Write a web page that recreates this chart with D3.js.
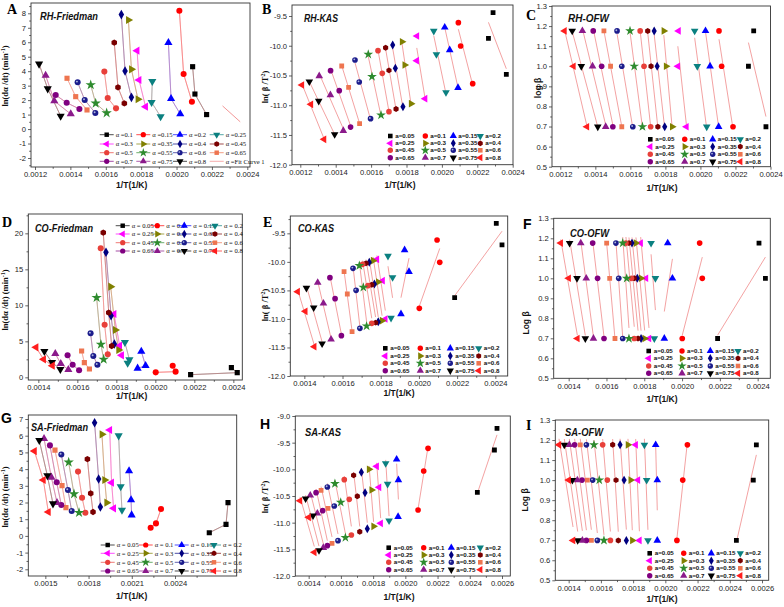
<!DOCTYPE html>
<html><head><meta charset="utf-8">
<script src="https://cdn.jsdelivr.net/npm/d3@7"></script>
<style>body{margin:0;background:#fff}svg{display:block}</style>
</head><body><svg id="c" width="784" height="607"></svg>
<script>
// ---------------- DATA ----------------
const alphaLabels = ["0.05","0.1","0.15","0.2","0.25","0.3","0.35","0.4","0.45","0.5","0.55","0.6","0.65","0.7","0.75","0.8"];
const alphaLabelsRHF = ["0.1","0.15","0.2","0.25","0.3","0.35","0.4","0.45","0.5","0.55","0.6","0.65","0.7","0.75","0.8","Fit Curve 1"];
const ofwLogBeta = [1.176, 1.0, 0.699];   // log of heating rates 15, 10, 5 K/min

// RH-Friedman (alpha 0.1..0.8), points ordered beta = 15, 10, 5
const rhFriedmanX = [[0.002091,0.002104,0.00217],[0.002016,0.00204,0.002087],[0.001954,0.001969,0.002021],[0.001863,0.001859,0.00191],[0.001777,0.001788,0.001825],[0.001728,0.001745,0.001782],[0.001688,0.001709,0.001745],[0.001648,0.001669,0.001705],[0.001592,0.001611,0.001658],[0.001515,0.001543,0.001605],[0.001441,0.001481,0.001541],[0.001381,0.00143,0.001494],[0.001317,0.001379,0.001451],[0.00126,0.001309,0.001402],[0.001223,0.001272,0.001345]];
const rhFriedmanY = [[4.31,2.42,1.0],[8.18,3.81,1.89],[5.97,2.1,1.04],[3.3,1.85,0.86],[5.42,3.39,1.55],[7.54,4.13,2.06],[7.91,4.01,2.19],[5.97,2.88,1.78],[3.97,2.15,1.43],[3.05,1.78,1.11],[3.23,2.01,1.11],[3.51,2.24,1.32],[2.35,1.82,1.39],[3.71,1.94,1.04],[4.5,2.79,0.9]];
const rhFitCurveX = [0.00226, 0.00236];
const rhFitCurveY = [1.6, 0.5];

// RH-KAS
const rhKasX = [[0.002289,0.002263,0.002364],[0.002093,0.002106,0.002174],[0.002016,0.002044,0.002091],[0.001954,0.001969,0.002023],[0.001859,0.001858,0.001905],[0.001775,0.00179,0.001826],[0.001722,0.001737,0.00178],[0.001682,0.001701,0.001741],[0.001639,0.001663,0.001701],[0.001584,0.001605,0.001656],[0.001509,0.001533,0.001597],[0.001434,0.001473,0.001535],[0.001371,0.00142,0.001484],[0.001307,0.00137,0.001443],[0.001251,0.001304,0.001394],[0.001209,0.00126,0.001334]];
const rhKasY = [[-9.444,-9.876,-10.481],[-9.612,-10.004,-10.638],[-9.691,-10.072,-10.705],[-9.752,-10.145,-10.784],[-9.836,-10.251,-10.89],[-9.932,-10.324,-10.974],[-9.988,-10.38,-11.025],[-10.033,-10.414,-11.064],[-10.083,-10.464,-11.109],[-10.145,-10.52,-11.165],[-10.24,-10.61,-11.226],[-10.341,-10.7,-11.31],[-10.419,-10.756,-11.367],[-10.509,-10.828,-11.428],[-10.604,-10.929,-11.49],[-10.66,-10.985,-11.574]];

// RH-OFW
const rhOfwX = [[0.002304,0.002274,0.002374],[0.002106,0.002121,0.002186],[0.002029,0.002055,0.002104],[0.001967,0.001982,0.002036],[0.001875,0.001871,0.00192],[0.001791,0.001804,0.001839],[0.001736,0.001753,0.001796],[0.001699,0.001718,0.001757],[0.001656,0.001678,0.001716],[0.001598,0.001622,0.001669],[0.001524,0.001551,0.001614],[0.001449,0.001487,0.001551],[0.001388,0.001436,0.0015],[0.001326,0.001384,0.001459],[0.001268,0.00132,0.001414],[0.001224,0.001275,0.001352]];

// CO-Friedman
const coFriedmanX = [[0.00239,0.00242,0.002181],[0.002089,0.002104,0.002002],[0.001928,0.00195,0.001909],[0.001844,0.001867,0.001858],[0.001788,0.001817,0.001827],[0.001771,0.001795,0.001812],[0.001747,0.001773,0.00179],[0.001733,0.001761,0.001776],[0.00172,0.00174,0.001756],[0.001699,0.001721,0.001735],[0.001668,0.001682,0.001703],[0.001622,0.001636,0.001662],[0.00155,0.001576,0.001609],[0.001487,0.001515,0.001554],[0.001431,0.00147,0.001513],[0.001388,0.001427,0.001472]];
const coFriedmanY = [[1.34,0.65,0.37],[1.62,0.79,0.69],[3.61,1.62,1.25],[4.86,2.45,1.99],[8.8,4.4,3.06],[12.59,6.57,3.8],[17.36,8.56,4.63],[20.09,8.98,4.35],[17.92,7.31,3.19],[11.06,4.58,2.5],[6.11,2.96,1.76],[3.66,2.04,1.16],[3.06,1.76,0.97],[3.29,1.9,1.06],[3.61,2.08,1.11],[4.17,2.5,1.62]];

// CO-KAS
const coKasX = [[0.002405,0.002435,0.002187],[0.002095,0.002109,0.002002],[0.001925,0.001948,0.001906],[0.001838,0.001862,0.001854],[0.00178,0.00181,0.001824],[0.00176,0.001787,0.001807],[0.00174,0.001767,0.001787],[0.001723,0.001753,0.001773],[0.001705,0.001733,0.001753],[0.001688,0.001709,0.001726],[0.001655,0.001671,0.001691],[0.001608,0.001625,0.00165],[0.001534,0.001561,0.001594],[0.00147,0.0015,0.00154],[0.001411,0.001449,0.001493],[0.001365,0.001405,0.001452]];
const coKasY = [[-9.325,-9.704,-10.627],[-9.617,-10.008,-10.814],[-9.792,-10.172,-10.914],[-9.897,-10.271,-10.984],[-9.956,-10.329,-11.001],[-9.979,-10.353,-11.03],[-10.008,-10.388,-11.048],[-10.026,-10.4,-11.065],[-10.043,-10.417,-11.077],[-10.067,-10.446,-11.124],[-10.113,-10.499,-11.165],[-10.172,-10.563,-11.223],[-10.277,-10.645,-11.293],[-10.364,-10.727,-11.357],[-10.458,-10.803,-11.433],[-10.522,-10.867,-11.486]];

// CO-OFW
const coOfwX = [[0.002407,0.002441,0.002188],[0.002093,0.002107,0.002001],[0.001924,0.001949,0.001906],[0.001836,0.001859,0.001853],[0.001781,0.001809,0.001825],[0.001756,0.001783,0.001802],[0.001735,0.001763,0.001783],[0.001719,0.001747,0.001767],[0.001703,0.001732,0.001747],[0.001686,0.001707,0.001719],[0.00165,0.001665,0.001686],[0.001601,0.001617,0.001645],[0.001527,0.001553,0.001587],[0.001464,0.001493,0.001531],[0.001405,0.001444,0.001488],[0.001358,0.0014,0.001446]];

// SA-Friedman
const saFriedmanX = [[0.002768,0.002754,0.002638],[0.002303,0.002268,0.002231],[0.002081,0.002095,0.002099],[0.002009,0.002023,0.002032],[0.001947,0.00196,0.001974],[0.001893,0.001912,0.001926],[0.001842,0.00187,0.001882],[0.001792,0.001815,0.001831],[0.001727,0.001755,0.001778],[0.001662,0.001699,0.001734],[0.001611,0.001657,0.001683],[0.001567,0.001616,0.001643],[0.001532,0.001579,0.001611],[0.001491,0.001542,0.001581],[0.001458,0.001514,0.001553],[0.001424,0.001486,0.001521]];
const saFriedmanY = [[1.99,0.69,0.19],[1.61,0.75,0.49],[3.89,2.15,1.25],[6.0,2.95,1.55],[6.34,3.19,1.65],[6.08,3.35,1.99],[6.78,3.41,1.73],[4.6,2.55,1.43],[3.85,2.29,1.39],[4.41,2.51,1.39],[4.88,2.75,1.49],[5.14,3.01,1.69],[5.42,3.21,1.85],[5.82,3.51,1.99],[5.72,3.61,1.93],[5.08,3.35,1.43]];

// SA-KAS
const saKasX = [[0.002569,0.002553,0.002447],[0.002141,0.002114,0.002079],[0.001946,0.001957,0.001955],[0.001878,0.00189,0.001899],[0.001822,0.001837,0.001847],[0.001775,0.001791,0.001803],[0.001727,0.00175,0.001764],[0.001679,0.001702,0.001717],[0.001621,0.001652,0.001665],[0.001563,0.001599,0.001628],[0.001516,0.001559,0.001582],[0.001477,0.00152,0.001545],[0.001446,0.001487,0.001516],[0.00141,0.001454,0.001491],[0.001381,0.001427,0.001464],[0.001346,0.0014,0.001435]];
const saKasY = [[-9.231,-9.638,-10.431],[-9.606,-10.031,-10.763],[-9.813,-10.2,-10.888],[-9.888,-10.275,-10.963],[-9.944,-10.338,-11.013],[-10.0,-10.388,-11.069],[-10.056,-10.438,-11.113],[-10.113,-10.506,-11.169],[-10.194,-10.563,-11.231],[-10.269,-10.619,-11.281],[-10.331,-10.688,-11.338],[-10.394,-10.731,-11.388],[-10.438,-10.775,-11.431],[-10.488,-10.825,-11.469],[-10.55,-10.869,-11.519],[-10.588,-10.9,-11.556]];

// SA-OFW
const saOfwX = [[0.002565,0.002546,0.002441],[0.002137,0.002108,0.002072],[0.00194,0.00195,0.00195],[0.00187,0.001884,0.001892],[0.001816,0.00183,0.001839],[0.001768,0.001785,0.001795],[0.001719,0.001744,0.001758],[0.001673,0.001694,0.001708],[0.001611,0.00164,0.001659],[0.001557,0.00159,0.001619],[0.00151,0.001549,0.001578],[0.001472,0.001516,0.001541],[0.001437,0.001483,0.00151],[0.001404,0.001454,0.001485],[0.001373,0.001423,0.001456],[0.00134,0.0014,0.001427]];

// tick values
const xTicksRH = [0.0012,0.0014,0.0016,0.0018,0.0020,0.0022,0.0024];
const xTicksCO = [0.0014,0.0016,0.0018,0.0020,0.0022,0.0024];
const xTicksSAF = [0.0015,0.0018,0.0021,0.0024];
const xTicksSA = [0.0014,0.0016,0.0018,0.0020,0.0022,0.0024,0.0026];
const yTicksRHF = [-2,-1,0,1,2,3,4,5,6,7,8];
const yTicksCOF = [0,5,10,15,20];
const yTicksSAF = [-2,-1,0,1,2,3,4,5,6,7];
const yTicksKAS = [-12.0,-11.5,-11.0,-10.5,-10.0,-9.5];
const yTicksKASsa = [-12.0,-11.5,-11.0,-10.5,-10.0,-9.5,-9.0];
const yTicksOFW = [0.5,0.6,0.7,0.8,0.9,1.0,1.1,1.2,1.3];

// ---------------- STYLE ----------------
const styles = [
 {shape:"square",color:"#000000"},{shape:"circle",color:"#ff0000"},{shape:"up",color:"#0000ff"},{shape:"down",color:"#0b8080"},
 {shape:"left",color:"#ff00ff"},{shape:"right",color:"#808000"},{shape:"diamond",color:"#000080"},{shape:"hexagon",color:"#7a0000"},
 {shape:"circle",color:"#e8403a"},{shape:"star",color:"#2e8b2e"},{shape:"sphere",color:"#1c1c8c"},{shape:"square",color:"#ee7550"},
 {shape:"circle",color:"#800080"},{shape:"up",color:"#8b1a8b"},{shape:"down",color:"#000000"},{shape:"left",color:"#ff1e1e"}];
const FIT = "#f08a8a";
const svg = d3.select("#c");
const SANS = "'Liberation Sans', Arial, sans-serif";
const SERIF = "'Liberation Serif', 'Times New Roman', serif";

function shapePath(shape,k){
  switch(shape){
    case "square": return d3.symbol(d3.symbolSquare,22*k)();
    case "circle": case "sphere": return d3.symbol(d3.symbolCircle,24*k)();
    case "up": case "down": case "left": case "right": return d3.symbol(d3.symbolTriangle,24*k)();
    case "diamond": return d3.symbol(d3.symbolDiamond,22*k)();
    case "star": return d3.symbol(d3.symbolStar,28*k)();
    case "hexagon": { const r=2.9*Math.sqrt(k); return d3.line()(d3.range(6).map(i=>[r*Math.cos(Math.PI/3*i+Math.PI/6),r*Math.sin(Math.PI/3*i+Math.PI/6)]))+"Z"; }
  }
}
const ROT={down:180,left:-90,right:90};
function drawSym(g,st,x,y,k){
  g.append("path").attr("d",shapePath(st.shape,k)).attr("fill",st.color)
   .attr("transform",`translate(${x},${y}) rotate(${ROT[st.shape]||0})`);
  if(st.shape==="sphere") g.append("circle").attr("cx",x-0.7).attr("cy",y-0.7).attr("r",0.9*Math.sqrt(k)).attr("fill","#aab4dd");
}
function regress(xs,ys){
  const mx=d3.mean(xs),my=d3.mean(ys);let sxy=0,sxx=0;
  xs.forEach((v,i)=>{sxy+=(v-mx)*(ys[i]-my);sxx+=(v-mx)*(v-mx);});
  const b=sxy/sxx,a=my-b*mx;const [x0,x1]=d3.extent(xs);
  return [[x0,a+b*x0],[x1,a+b*x1]];
}
const fmtX=d=>d.toFixed(4);
const fmtI=d=>String(d);
const fmt1=d=>d.toFixed(1);

const panels=[
 {L:"A",lf:SERIF,lx:7,ly:14,kind:"F",title:"RH-Friedman",tx:40,ty:16,tw:58,xs:rhFriedmanX,ys:rhFriedmanY,labels:alphaLabelsRHF,
  frame:[31,250,3,167],xcal:[0.0012,0.0024,35,247.3],ycal:[8,-2,13.3,158],xt:xTicksRH,yt:yTicksRHF,yf:fmtI,
  ytitle:"F",ytx:8,yty:76,xtx:131.7,xty:188,cols:[106.7,143.3,180,216.7],rows:[134.7,144,152.7,161.3],legFmt:l=>"α =" + l,fitCurve:true},
 {L:"B",lf:SERIF,lx:262,ly:14,kind:"K",title:"RH-KAS",tx:304,ty:18.5,tw:34,xs:rhKasX,ys:rhKasY,labels:alphaLabels,
  frame:[292,513,5,164.7],xcal:[0.0012,0.0024,300.3,512.7],ycal:[-9.5,-12,16,164.7],xt:xTicksRH,yt:yTicksKAS,yf:fmt1,
  ytitle:"K",ytx:268,yty:87,xtx:400,xty:188,cols:[390.3,425.3,453.3,480.3],rows:[136,143.3,150.3,157.7],legFmt:l=>"a="+l},
 {L:"C",lf:SERIF,lx:526,ly:20,kind:"O",title:"RH-OFW",tx:568,ty:18.5,tw:41,xs:rhOfwX,labels:alphaLabels,
  frame:[552,770.5,6,166.7],xcal:[0.0012,0.0024,560.3,770.5],ycal:[1.3,0.5,6,166.7],xt:xTicksRH,yt:yTicksOFW,yf:fmt1,
  ytitle:"log β",ytx:541,yty:88,xtx:662,xty:191,cols:[650.3,684.7,712.7,740.3],rows:[139.3,146.7,154.3,161.7],legFmt:l=>"a="+l},
 {L:"D",lf:SERIF,lx:2,ly:227,kind:"F",title:"CO-Friedman",tx:35,ty:228.5,tw:58,xs:coFriedmanX,ys:coFriedmanY,labels:alphaLabels,
  frame:[28.3,242.3,214,380],xcal:[0.0014,0.0024,38.33,233.33],ycal:[20,0,233.33,377.33],xt:xTicksCO,yt:yTicksCOF,yf:fmtI,
  ytitle:"F",ytx:8,yty:300,xtx:131.7,xty:399,cols:[122.7,157.3,184.3,215],rows:[225.7,234,242.7,251],legFmt:l=>"α = "+l},
 {L:"E",lf:SERIF,lx:263,ly:227,kind:"K",title:"CO-KAS",tx:298,ty:228.5,tw:36,xs:coKasX,ys:coKasY,labels:alphaLabels,
  frame:[290.3,507.7,216,376],xcal:[0.0014,0.0024,304.33,495.33],ycal:[-9.5,-12,233.33,376],xt:xTicksCO,yt:yTicksKAS,yf:fmt1,
  ytitle:"K",ytx:268,yty:305,xtx:399,xty:396,cols:[385.3,420.3,450.3,478.7],rows:[348.3,356,363.3,370.7],legFmt:l=>"a="+l},
 {L:"F",lf:SANS,lx:523,ly:229,kind:"O",title:"CO-OFW",tx:570,ty:233.5,tw:39,xs:coOfwX,labels:alphaLabels,
  frame:[553.7,770.3,218.3,378.3],xcal:[0.0014,0.0024,568.67,757.67],ycal:[1.3,0.5,218.3,378.3],xt:xTicksCO,yt:yTicksOFW,yf:fmt1,
  ytitle:"Log β",ytx:529,yty:323,xtx:662,xty:402,cols:[648.7,682,710.3,738],rows:[351,358.3,366,373.3],legFmt:l=>"a="+l},
 {L:"G",lf:SANS,lx:1,ly:423,kind:"F",title:"SA-Friedman",tx:31,ty:427,tw:57,xs:saFriedmanX,ys:saFriedmanY,labels:alphaLabels,
  frame:[28.3,236.7,415,576],xcal:[0.0015,0.0024,45.33,175],ycal:[7,-2,419,569.3],xt:xTicksSAF,yt:yTicksSAF,yf:fmtI,
  ytitle:"F",ytx:8,yty:497,xtx:131.7,xty:599,cols:[107.7,145.7,181.7,214],rows:[545,553.3,562.3,571],legFmt:l=>"α = "+l},
 {L:"H",lf:SANS,lx:260,ly:429,kind:"K",title:"SA-KAS",tx:305,ty:432.5,tw:36,xs:saKasX,ys:saKasY,labels:alphaLabels,
  frame:[295.3,510.3,416,576],xcal:[0.0014,0.0026,308.67,502],ycal:[-9,-12,416,576],xt:xTicksSA,yt:yTicksKASsa,yf:fmt1,
  ytitle:"K",ytx:268,yty:497,xtx:399,xty:600,cols:[388.7,423.7,451.3,480.3],rows:[547.7,555,562.3,569.7],legFmt:l=>"a="+l},
 {L:"I",lf:SERIF,lx:526,ly:430,kind:"O",title:"SA-OFW",tx:565,ty:432.5,tw:38,xs:saOfwX,labels:alphaLabels,
  frame:[555.3,768.7,420,580.3],xcal:[0.0014,0.0026,568.67,762],ycal:[1.3,0.5,420,580.3],xt:xTicksSA,yt:yTicksOFW,yf:fmt1,
  ytitle:"Log β",ytx:528,yty:500,xtx:662,xty:602,cols:[649.7,683.7,711.3,740.3],rows:[553.3,560.7,568.3,575.7],legFmt:l=>"a="+l}
];

function minors(t,dom){
  const step=t[1]-t[0];const out=[];
  for(let v=t[0]-step/2;v<=t[t.length-1]+step/2+1e-12;v+=step){
    const lo=Math.min(...dom),hi=Math.max(...dom);
    if(v>=lo-1e-12&&v<=hi+1e-12) out.push(v);
  }
  return out;
}

panels.forEach((p,pi)=>{
  const [fx0,fx1,fy0,fy1]=p.frame;
  const xc=d3.scaleLinear().domain([p.xcal[0],p.xcal[1]]).range([p.xcal[2],p.xcal[3]]);
  const yc=d3.scaleLinear().domain([p.ycal[0],p.ycal[1]]).range([p.ycal[2],p.ycal[3]]);
  const x=d3.scaleLinear().domain([xc.invert(fx0),xc.invert(fx1)]).range([fx0,fx1]);
  const y=d3.scaleLinear().domain([yc.invert(fy1),yc.invert(fy0)]).range([fy1,fy0]);
  const g=svg.append("g");
  const cid="clip"+pi;
  g.append("clipPath").attr("id",cid).append("rect").attr("x",fx0).attr("y",fy0).attr("width",fx1-fx0).attr("height",fy1-fy0);

  // axes
  const inX=p.xt.filter(v=>x(v)>=fx0-0.5&&x(v)<=fx1+1);
  const inY=p.yt.filter(v=>y(v)>=fy0-0.5&&y(v)<=fy1+0.5);
  const ax=g.append("g").attr("transform",`translate(0,${fy1})`)
    .call(d3.axisBottom(x).tickValues(inX).tickSize(3).tickPadding(2).tickFormat(fmtX));
  const axm=g.append("g").attr("transform",`translate(0,${fy1})`)
    .call(d3.axisBottom(x).tickValues(minors(inX,x.domain())).tickSize(1.8).tickFormat(""));
  const ay=g.append("g").attr("transform",`translate(${fx0},0)`)
    .call(d3.axisLeft(y).tickValues(inY).tickSize(3).tickPadding(2).tickFormat(p.yf));
  const aym=g.append("g").attr("transform",`translate(${fx0},0)`)
    .call(d3.axisLeft(y).tickValues(minors(inY,y.domain())).tickSize(1.8).tickFormat(""));
  [ax,axm,ay,aym].forEach(a=>{a.select(".domain").remove();a.selectAll("line").attr("stroke","#222").attr("stroke-width",0.7);
    a.selectAll("text").attr("font-family",SANS).attr("font-size",7.6).attr("fill","#222");});
  g.append("rect").attr("x",fx0).attr("y",fy0).attr("width",fx1-fx0).attr("height",fy1-fy0)
    .attr("fill","none").attr("stroke","#333").attr("stroke-width",0.9);

  const plot=g.append("g").attr("clip-path",`url(#${cid})`);
  const line=d3.line().x(d=>x(d[0])).y(d=>y(d[1]));
  const nS=p.xs.length;
  const getY=(i)=>p.kind==="O"?ofwLogBeta:p.ys[i];

  // lines
  for(let i=0;i<nS;i++){
    const pts=p.xs[i].map((v,j)=>[v,getY(i)[j]]);
    if(p.kind==="F"){
      plot.append("path").attr("d",line(pts)).attr("fill","none").attr("stroke",styles[i].color).attr("stroke-opacity",0.55).attr("stroke-width",0.8);
      plot.append("path").attr("d",line(pts)).attr("fill","none").attr("stroke",FIT).attr("stroke-opacity",0.55).attr("stroke-width",0.8);
    } else {
      plot.append("path").attr("d",line(regress(p.xs[i],getY(i)))).attr("fill","none").attr("stroke",FIT).attr("stroke-width",0.8);
    }
  }
  if(p.fitCurve){
    plot.append("path").attr("d",line(rhFitCurveX.map((v,j)=>[v,rhFitCurveY[j]]))).attr("fill","none").attr("stroke",FIT).attr("stroke-width",0.9);
  }
  // points
  const k=p.kind==="F"?1.2:1.05;
  for(let i=0;i<nS;i++){
    p.xs[i].forEach((v,j)=>drawSym(plot,styles[i],x(v),y(getY(i)[j]),k));
  }

  // legend
  const lg=g.append("g");
  p.labels.forEach((lab,i)=>{
    const cx=p.cols[i%4],cy=p.rows[Math.floor(i/4)];
    if(p.kind==="F"){
      const isFit=(lab==="Fit Curve 1");
      lg.append("line").attr("x1",cx-7).attr("x2",cx+7).attr("y1",cy).attr("y2",cy)
        .attr("stroke",isFit?FIT:styles[i].color).attr("stroke-width",0.7);
      if(!isFit) drawSym(lg,styles[i],cx,cy,0.9);
      lg.append("text").attr("x",cx+9).attr("y",cy).attr("dy","0.35em").attr("font-family",SERIF)
        .attr("font-size",6.6).attr("fill","#111").text(p.legFmt(lab));
    } else {
      drawSym(lg,styles[i],cx,cy,0.95);
      lg.append("text").attr("x",cx+5).attr("y",cy).attr("dy","0.35em").attr("font-family",SANS)
        .attr("font-size",6.2).attr("font-weight","bold").attr("fill","#111").text(p.legFmt(lab));
    }
  });

  // panel letter and title
  svg.append("text").attr("x",p.lx).attr("y",p.ly).attr("font-family",p.lf).attr("font-weight","bold")
    .attr("font-size",14).attr("fill","#000").text(p.L);
  svg.append("text").attr("x",p.tx).attr("y",p.ty).attr("dy","0.35em").attr("font-family",SANS)
    .attr("font-weight","bold").attr("font-style","italic").attr("font-size",10.5)
    .attr("textLength",p.tw).attr("lengthAdjust","spacingAndGlyphs").attr("fill","#111").text(p.title);
  // x title
  svg.append("text").attr("x",p.xtx).attr("y",p.xty).attr("text-anchor","middle").attr("font-family",SANS)
    .attr("font-weight","bold").attr("font-size",8.5).attr("fill","#111").text("1/T(1/K)");
  // y title
  const yt=svg.append("text").attr("transform",`translate(${p.ytx},${p.yty}) rotate(-90)`).attr("text-anchor","middle")
    .attr("font-weight","bold").attr("fill","#111");
  if(p.ytitle==="F"){
    yt.attr("font-family",SERIF).attr("font-size",8.5);
    yt.append("tspan").text("ln(dα /dt) (min");
    yt.append("tspan").attr("font-size",6).attr("dy",-3.5).text("-1");
    yt.append("tspan").attr("dy",3.5).text(")");
  } else if(p.ytitle==="K"){
    yt.attr("font-family",SERIF).attr("font-size",8.5);
    yt.append("tspan").text("ln( β /T");
    yt.append("tspan").attr("font-size",6).attr("dy",-3.5).text("2");
    yt.append("tspan").attr("dy",3.5).text(")");
  } else {
    yt.attr("font-family",SANS).attr("font-size",8.5).text(p.ytitle);
  }
});
</script></body></html>
